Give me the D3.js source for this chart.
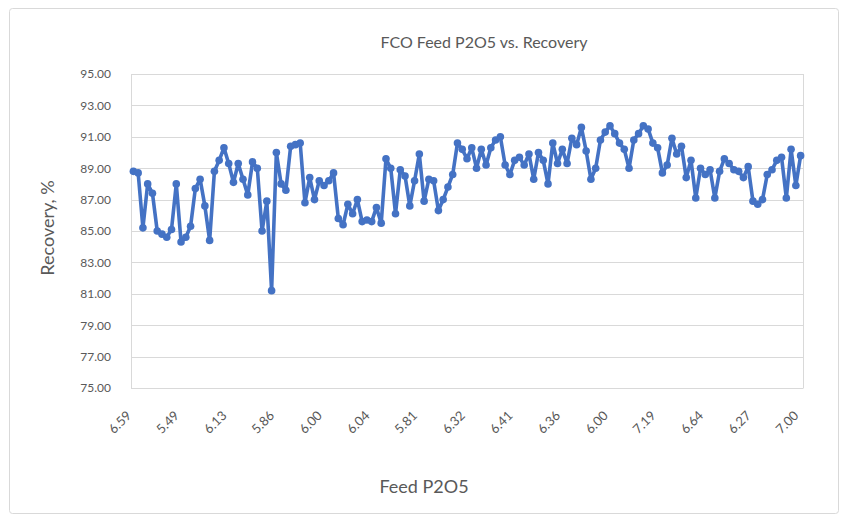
<!DOCTYPE html>
<html><head><meta charset="utf-8">
<script src="https://cdn.jsdelivr.net/npm/d3@7"></script>
<style>body{margin:0;background:#fff}</style>
</head><body><svg id="c" width="844" height="520"></svg>
<script>
const recovery = [
 88.8,88.7,85.2,88.0,87.4,85.0,84.8,84.6,85.1,88.0,
 84.3,84.6,85.3,87.7,88.3,86.6,84.4,88.8,89.5,90.3,
 89.3,88.1,89.3,88.3,87.3,89.4,89.0,85.0,86.9,81.2,
 90.0,88.0,87.6,90.4,90.5,90.6,86.8,88.4,87.0,88.2,
 87.9,88.2,88.7,85.8,85.4,86.7,86.1,87.0,85.6,85.7,
 85.6,86.5,85.5,89.6,89.0,86.1,88.9,88.5,86.6,88.2,
 89.9,86.9,88.3,88.2,86.3,87.0,87.8,88.6,90.6,90.2,
 89.6,90.3,89.0,90.2,89.2,90.3,90.8,91.0,89.2,88.6,
 89.5,89.7,89.2,89.9,88.3,90.0,89.5,88.0,90.6,89.3,
 90.2,89.3,90.9,90.5,91.6,90.1,88.3,89.0,90.8,91.3,
 91.7,91.2,90.6,90.2,89.0,90.8,91.2,91.7,91.5,90.6,
 90.3,88.7,89.2,90.9,89.9,90.4,88.4,89.5,87.1,89.0,
 88.6,88.9,87.1,88.8,89.6,89.3,88.9,88.8,88.4,89.1,
 86.9,86.7,87.0,88.6,88.9,89.5,89.7,87.1,90.2,87.9,
 89.8
];
const tickLabels = ["6.59","5.49","6.13","5.86","6.00","6.04","5.81","6.32","6.41","6.36","6.00","7.19","6.64","6.27","7.00"];
const tickEvery = 10;
const yTicks = [75,77,79,81,83,85,87,89,91,93,95];
const title = "FCO Feed P2O5 vs. Recovery";
const xTitle = "Feed P2O5";
const yTitle = "Recovery, %";

const W = 844, H = 520;
const L = 131, R = 803, T = 74, B = 388;
const font = "Lato, 'Open Sans', sans-serif";
const grey = "#595959";
const blue = "#4472C4";

const svg = d3.select("#c");
svg.append("rect").attr("x",0).attr("y",0).attr("width",W).attr("height",H).attr("fill","#fff");
svg.append("rect").attr("x",9.5).attr("y",8.5).attr("width",829).attr("height",505)
  .attr("rx",3).attr("fill","#fff").attr("stroke","#d9d9d9").attr("stroke-width",1);

const idx = d3.range(recovery.length);
const x = d3.scalePoint().domain(idx).range([L, R]).padding(0.5);
const y = d3.scaleLinear().domain([75, 95]).range([B, T]);

// gridlines
svg.append("g").selectAll("line").data(yTicks).join("line")
  .attr("x1",L).attr("x2",R).attr("y1",d=>Math.round(y(d))+0.5).attr("y2",d=>Math.round(y(d))+0.5)
  .attr("stroke","#d9d9d9").attr("stroke-width",1);
// plot frame sides
svg.append("line").attr("x1",L+0.5).attr("x2",L+0.5).attr("y1",T).attr("y2",B).attr("stroke","#d9d9d9");
svg.append("line").attr("x1",R+0.5).attr("x2",R+0.5).attr("y1",T).attr("y2",B).attr("stroke","#d9d9d9");

// y axis
const yAxis = d3.axisLeft(y).tickValues(yTicks).tickSize(0).tickPadding(20).tickFormat(d3.format(".2f"));
const gy = svg.append("g").attr("transform",`translate(${L},0)`).call(yAxis);
gy.select(".domain").remove();
gy.selectAll("text").style("fill",grey).style("font-family",font).style("font-size","12px");

// x axis
const xTickVals = idx.filter(i => i % tickEvery === 0);
const xAxis = d3.axisBottom(x).tickValues(xTickVals).tickSize(0)
  .tickFormat(i => tickLabels[i / tickEvery]);
const gx = svg.append("g").attr("transform",`translate(0,${B})`).call(xAxis);
gx.select(".domain").attr("stroke","#d9d9d9");
gx.selectAll("text").style("fill",grey).style("font-family",font).style("font-size","13px")
  .attr("y",0).attr("dy",null).attr("text-anchor","end").attr("dominant-baseline","middle")
  .attr("transform","translate(-4,26) rotate(-45)");

// line + markers
const line = d3.line().x((d,i)=>x(i)).y(d=>y(d));
svg.append("path").datum(recovery).attr("d",line).attr("fill","none")
  .attr("stroke",blue).attr("stroke-width",3.6).attr("stroke-linejoin","round");
svg.append("g").selectAll("circle").data(recovery).join("circle")
  .attr("cx",(d,i)=>x(i)).attr("cy",d=>y(d)).attr("r",3.8).attr("fill",blue);

// titles
svg.append("text").attr("x",484).attr("y",48).attr("text-anchor","middle")
  .style("fill",grey).style("font-family",font).style("font-size","16px").text(title);
svg.append("text").attr("x",424).attr("y",493).attr("text-anchor","middle")
  .style("fill",grey).style("font-family",font).style("font-size","18px").text(xTitle);
svg.append("text").attr("transform","translate(54,228) rotate(-90)").attr("text-anchor","middle")
  .style("fill",grey).style("font-family",font).style("font-size","18px").text(yTitle);
</script></body></html>
